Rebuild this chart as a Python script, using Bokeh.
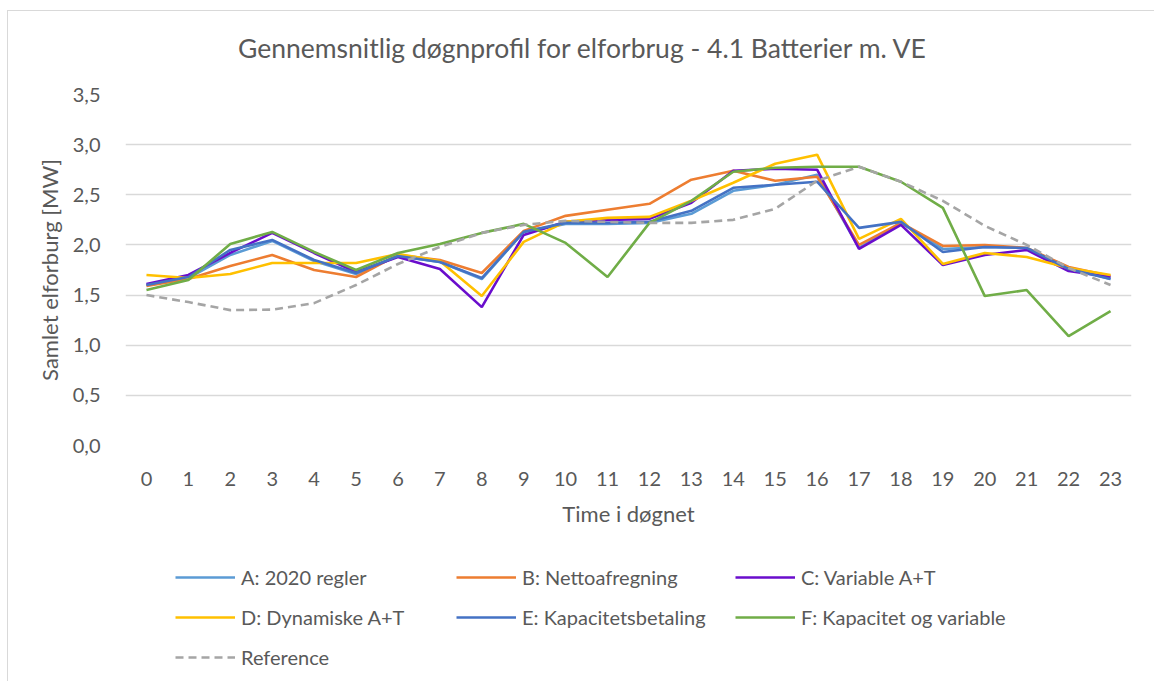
from bokeh.plotting import figure
from bokeh.layouts import column
from bokeh.models import (ColumnDataSource, FixedTicker, CustomJSTickFormatter,
                          Legend, LegendItem, Range1d, Div)
from bokeh.embed import file_html
from bokeh.resources import INLINE

title_text = "Gennemsnitlig døgnprofil for elforbrug - 4.1 Batterier m. VE"
hours = list(range(24))
x_labels = [str(h) for h in hours]
y_ticks = [0.0, 0.5, 1.0, 1.5, 2.0, 2.5, 3.0, 3.5]

series_names = ["A: 2020 regler", "B: Nettoafregning", "C: Variable A+T",
                "D: Dynamiske A+T", "E: Kapacitetsbetaling", "F: Kapacitet og variable",
                "Reference"]

a_2020 = [1.60, 1.67, 1.90, 2.04, 1.84, 1.71, 1.89, 1.83, 1.66, 2.13, 2.21, 2.21,
          2.22, 2.31, 2.54, 2.60, 2.70, 1.97, 2.22, 1.96, 1.98, 1.97, 1.77, 1.66]
b_netto = [1.59, 1.66, 1.79, 1.90, 1.75, 1.68, 1.90, 1.85, 1.72, 2.14, 2.29, 2.35,
           2.41, 2.65, 2.74, 2.64, 2.68, 2.00, 2.22, 1.99, 2.00, 1.97, 1.78, 1.69]
c_variable = [1.61, 1.70, 1.92, 2.12, 1.92, 1.73, 1.88, 1.76, 1.38, 2.10, 2.23, 2.25,
              2.26, 2.42, 2.74, 2.76, 2.75, 1.96, 2.20, 1.80, 1.90, 1.95, 1.74, 1.68]
d_dynamisk = [1.70, 1.67, 1.71, 1.82, 1.82, 1.82, 1.91, 1.84, 1.49, 2.03, 2.23, 2.27,
              2.28, 2.44, 2.62, 2.81, 2.90, 2.06, 2.26, 1.81, 1.92, 1.88, 1.77, 1.70]
e_kapacitet = [1.60, 1.68, 1.95, 2.05, 1.85, 1.72, 1.89, 1.83, 1.67, 2.13, 2.22, 2.22,
               2.23, 2.34, 2.57, 2.60, 2.63, 2.17, 2.23, 1.93, 1.98, 1.97, 1.76, 1.66]
f_kap_var = [1.55, 1.65, 2.01, 2.13, 1.93, 1.75, 1.92, 2.01, 2.12, 2.21, 2.02, 1.68,
             2.22, 2.44, 2.73, 2.77, 2.78, 2.78, 2.63, 2.37, 1.49, 1.55, 1.09, 1.34]
reference = [1.50, 1.43, 1.35, 1.355, 1.42, 1.60, 1.81, 1.98, 2.12, 2.20, 2.24, 2.23,
             2.22, 2.22, 2.25, 2.36, 2.64, 2.78, 2.63, 2.44, 2.19, 2.00, 1.77, 1.60]

colors = ["#5B9BD5", "#ED7D31", "#6A0DCC", "#FFC000", "#4472C4", "#70AD47", "#A5A5A5"]
values = [a_2020, b_netto, c_variable, d_dynamisk, e_kapacitet, f_kap_var, reference]

FONT = "Lato"
TXT = "#595959"
W = 1146

# title block
title_div = Div(width=W, height=60,
                text=('<div style="font-family:Lato; font-size:26.5px; color:%s; '
                      'line-height:32px; padding-top:21px; padding-left:230px; '
                      'white-space:nowrap;">%s</div>') % (TXT, title_text))
title_div.styles = {"margin": "0", "padding": "0"}

p = figure(width=W, height=469, output_backend="svg", toolbar_location=None,
           x_range=Range1d(-0.5, 23.5), y_range=Range1d(0, 3.5))
p.min_border_left = 117
p.min_border_right = 23
p.min_border_top = 23
p.min_border_bottom = 95
p.outline_line_color = None
p.background_fill_color = "white"
p.border_fill_color = "white"

# axes
p.xaxis.ticker = FixedTicker(ticks=hours)
p.xaxis.major_label_overrides = {h: lab for h, lab in zip(hours, x_labels)}
p.yaxis.ticker = FixedTicker(ticks=y_ticks)
p.yaxis.formatter = CustomJSTickFormatter(code="return tick.toFixed(1).replace('.', ',');")
for ax in (p.xaxis[0], p.yaxis[0]):
    ax.axis_line_color = None
    ax.major_tick_line_color = None
    ax.minor_tick_line_color = None
    ax.major_label_text_font = FONT
    ax.major_label_text_font_size = "20px"
    ax.major_label_text_color = TXT
    ax.axis_label_text_font = FONT
    ax.axis_label_text_font_size = "22px"
    ax.axis_label_text_font_style = "normal"
    ax.axis_label_text_color = TXT
p.xaxis.axis_label = "Time i døgnet"
p.yaxis.axis_label = "Samlet elforburg [MW]"
p.xaxis.major_label_standoff = 20
p.xaxis.axis_label_standoff = 11
p.yaxis.major_label_standoff = 19
p.yaxis.axis_label_standoff = 7

p.xgrid.grid_line_color = None
p.ygrid.ticker = FixedTicker(ticks=y_ticks)
p.ygrid.grid_line_color = "#D9D9D9"
p.ygrid.grid_line_width = 1.4

for name, col, vals in zip(series_names, colors, values):
    src = ColumnDataSource(dict(x=hours, y=vals))
    dash = "8 5" if name == "Reference" else "solid"
    p.line("x", "y", source=src, line_color=col, line_width=2.6, line_dash=dash)

# legend panel (separate figure below the chart; its series lie outside its view)
lf = figure(width=W, height=141, output_backend="svg", toolbar_location=None,
            x_range=Range1d(-0.5, 23.5), y_range=Range1d(10, 11),
            x_axis_type=None, y_axis_type=None)
lf.min_border = 0
lf.outline_line_color = None
lf.grid.visible = False
lf.border_fill_color = "white"

legend_renderers = []
for name, col, vals in zip(series_names, colors, values):
    dash = "8 5" if name == "Reference" else "solid"
    src = ColumnDataSource(dict(x=hours, y=vals))
    legend_renderers.append(lf.line("x", "y", source=src, line_color=col,
                                    line_width=2.6, line_dash=dash))

def make_legend(idx, loc):
    lg = Legend(items=[LegendItem(label=series_names[i], renderers=[legend_renderers[i]]) for i in idx],
                location=loc, orientation="vertical")
    lg.label_text_font = FONT
    lg.label_text_font_size = "20px"
    lg.label_text_color = TXT
    lg.glyph_width = 60
    lg.glyph_height = 24
    lg.label_height = 24
    lg.label_standoff = 6
    lg.spacing = 16
    lg.padding = 0
    lg.margin = 0
    lg.border_line_color = None
    lg.background_fill_alpha = 0
    return lg

lf.add_layout(make_legend([0, 3, 6], (50, 12)))
lf.add_layout(make_legend([1, 4], (331, 52)))
lf.add_layout(make_legend([2, 5], (610, 52)))

layout = column(title_div, p, lf, spacing=0)
layout.styles = {"margin-left": "7px", "margin-top": "10px",
                 "border-left": "1px solid #d9d9d9", "border-top": "1px solid #d9d9d9"}

open("out.html", "w").write(file_html(layout, INLINE))
